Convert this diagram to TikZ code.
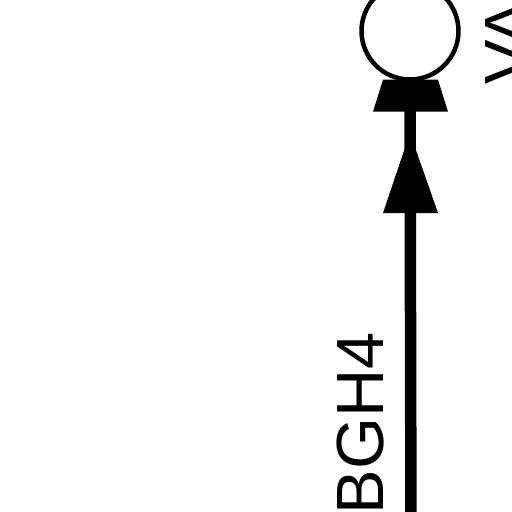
\documentclass[tikz,border=0pt]{standalone}
\usepackage{fontspec}
\setmainfont{Liberation Sans}
\usetikzlibrary{positioning,calc}

\begin{document}
\begin{tikzpicture}[x=0.02cm,y=-0.02cm]
  \useasboundingbox (0,0) rectangle (512,512);
  \clip (0,0) rectangle (512,512);
  \tikzset{tag/.style={rotate=90, inner sep=0pt, font=\fontsize{38}{38}\selectfont}}
  \node[circle, draw, line width=0.09cm, minimum size=1.94cm, inner sep=0pt] (lamp) at (410,31) {};
  \coordinate (feed) at (411,540);
  \draw[line width=0.23cm] (feed) -- (lamp.south);
  \fill ($(lamp.south)+(-27,-2)$) -- ++(55,0) -- ++(10,32) -- ++(-75,0) -- cycle;
  \fill (410,133) -- (438,213) -- (383,213) -- cycle; % arrow on the feed
  \node[tag, anchor=north east] (name) at (337,332) {BGH4};
  \node[tag, anchor=north west] (volt) at (485,85) {VA};
\end{tikzpicture}
\end{document}
